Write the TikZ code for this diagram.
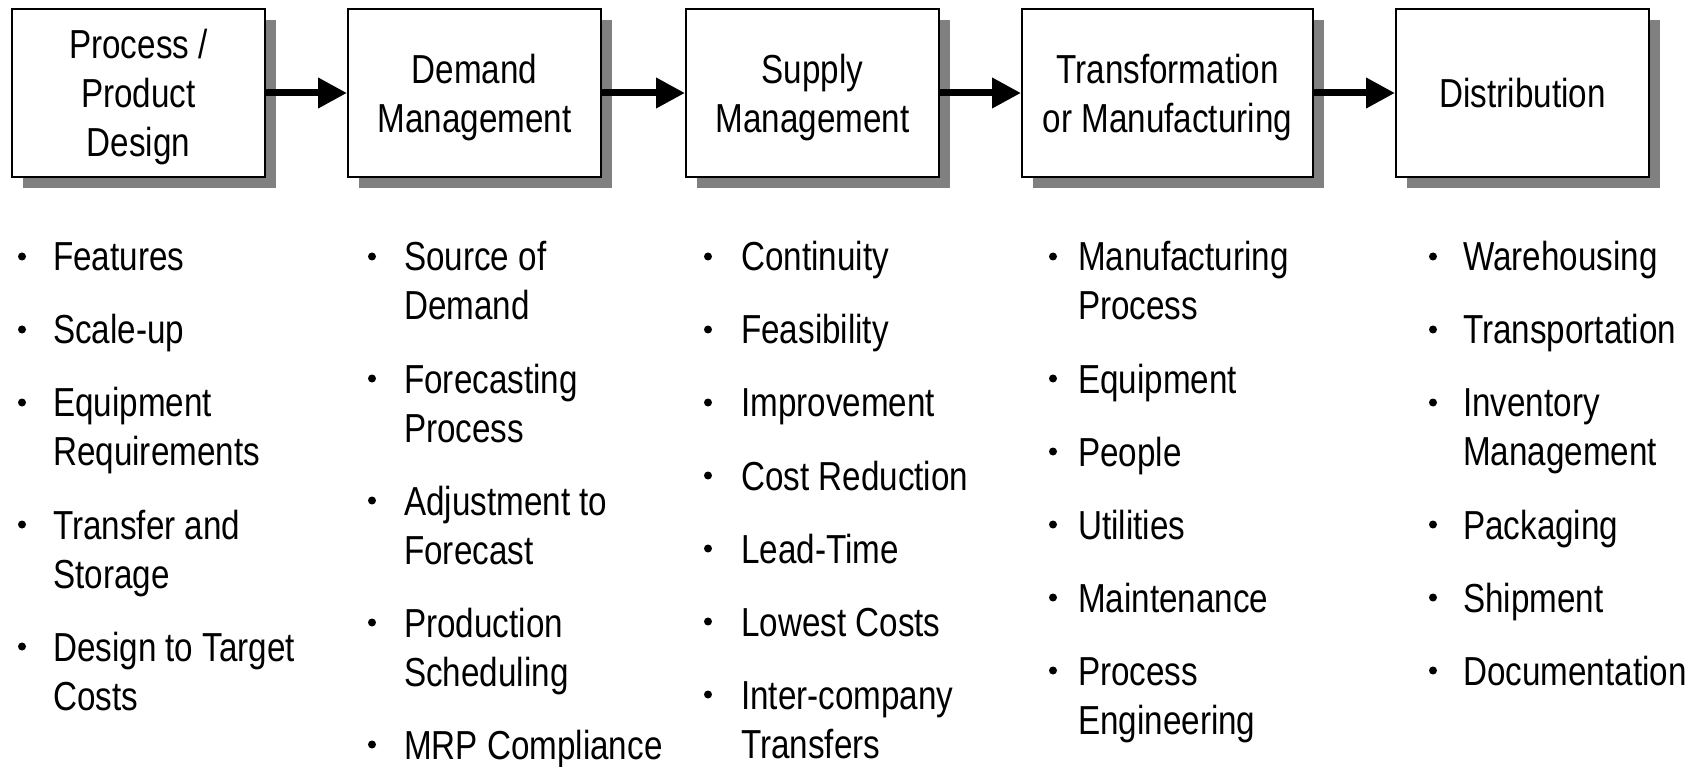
\documentclass[tikz,border=0pt]{standalone}
\usepackage{fontspec}
\setmainfont{Liberation Sans}[FakeStretch=0.82]
\usetikzlibrary{arrows.meta,shadows}
\definecolor{shade}{HTML}{808080}
\newcommand\twoline[2]{\begin{tabular}[t]{@{}l@{}}#1\\#2\end{tabular}}
\newcommand\itm[5]{\node[item] (#1) at (#3,#4) {#5};\fill (#2,#4-14.5) circle[radius=4];}
\begin{document}
\begin{tikzpicture}[x=1pt,y=-1pt,
  txt/.style={font=\fontsize{40.5}{49}\selectfont},
  box/.style={txt, draw=black, line width=2pt, fill=white, inner sep=0pt,
    minimum height=168pt, align=center, text depth=0pt,
    drop shadow={shadow xshift=11pt, shadow yshift=-11pt, fill=shade, opacity=1, draw=none}},
  arr/.style={line width=7pt, -{Triangle[length=29pt,width=29pt]}},
  item/.style={txt, anchor=base west, inner sep=0pt}]
\useasboundingbox (0,0) rectangle (1690,767);
\fill[white] (0,0) rectangle (1690,767);
% boxes
\node[box, minimum width=253pt] (b1) at (138.5,93) {Process /\\Product\\Design};
\node[box, minimum width=253pt] (b2) at (474.5,93) {Demand\\Management};
\node[box, minimum width=253pt] (b3) at (812.5,93) {Supply\\Management};
\node[box, minimum width=291pt] (b4) at (1167.5,93) {Transformation\\or Manufacturing};
\node[box, minimum width=253pt] (b5) at (1522.5,93) {Distribution};
% arrows
\draw[arr] (b1.east) -- (b2.west);
\draw[arr] (b2.east) -- (b3.west);
\draw[arr] (b3.east) -- (b4.west);
\draw[arr] (b4.east) -- (b5.west);
% column 1
\itm{a1}{22}{53}{271}{Features}
\itm{a2}{22}{53}{344}{Scale-up}
\itm{a3}{22}{53}{417}{\twoline{Equipment}{Requirements}}
\itm{a4}{22}{53}{539}{\twoline{Transfer and}{Storage}}
\itm{a5}{22}{53}{661}{\twoline{Design to Target}{Costs}}
% column 2
\itm{c1}{372}{404}{271}{\twoline{Source of}{Demand}}
\itm{c2}{372}{404}{393}{\twoline{Forecasting}{Process}}
\itm{c3}{372}{404}{515}{\twoline{Adjustment to}{Forecast}}
\itm{c4}{372}{404}{637}{\twoline{Production}{Scheduling}}
\itm{c5}{372}{404}{759}{MRP Compliance}
% column 3
\itm{d1}{708}{741}{271}{Continuity}
\itm{d2}{708}{741}{344}{Feasibility}
\itm{d3}{708}{741}{417}{Improvement}
\itm{d4}{708}{741}{490}{Cost Reduction}
\itm{d5}{708}{741}{563}{Lead-Time}
\itm{d6}{708}{741}{636}{Lowest Costs}
\itm{d7}{708}{741}{709}{\twoline{Inter-company}{Transfers}}
% column 4
\itm{e1}{1053}{1078}{271}{\twoline{Manufacturing}{Process}}
\itm{e2}{1053}{1078}{393}{Equipment}
\itm{e3}{1053}{1078}{466}{People}
\itm{e4}{1053}{1078}{539}{Utilities}
\itm{e5}{1053}{1078}{612}{Maintenance}
\itm{e6}{1053}{1078}{685}{\twoline{Process}{Engineering}}
% column 5
\itm{f1}{1433}{1463}{271}{Warehousing}
\itm{f2}{1433}{1463}{344}{Transportation}
\itm{f3}{1433}{1463}{417}{\twoline{Inventory}{Management}}
\itm{f4}{1433}{1463}{539}{Packaging}
\itm{f5}{1433}{1463}{612}{Shipment}
\itm{f6}{1433}{1463}{685}{Documentation}
\end{tikzpicture}
\end{document}
